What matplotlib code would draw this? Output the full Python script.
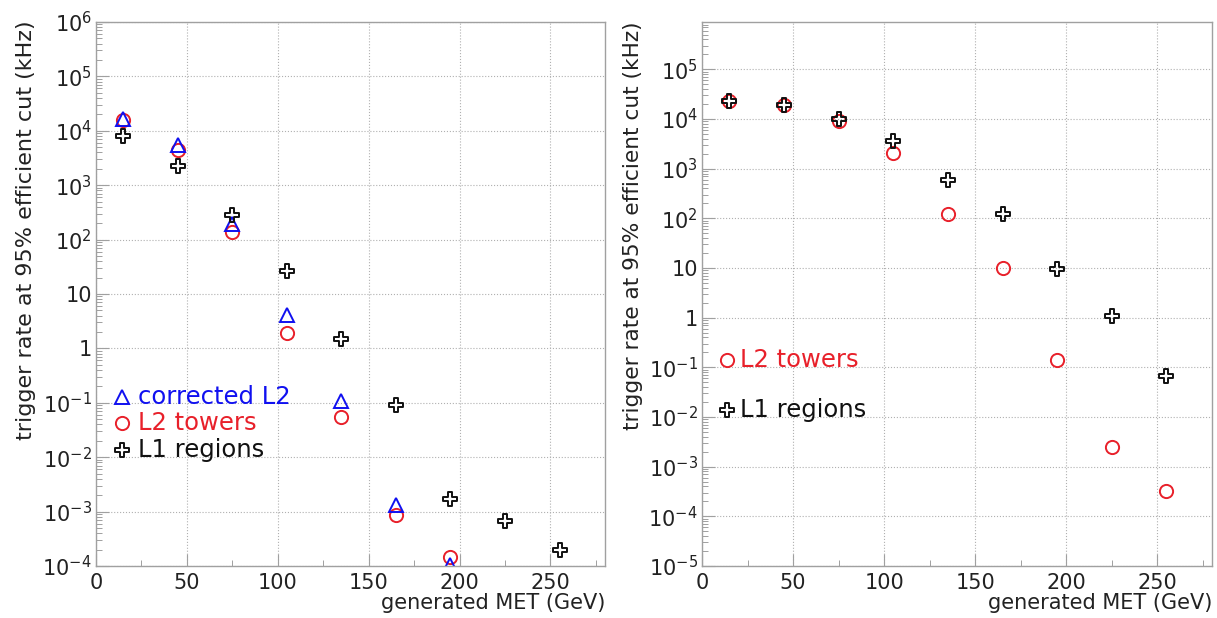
import numpy as np
import matplotlib
matplotlib.use("Agg")
import matplotlib.pyplot as plt
from matplotlib.path import Path
from matplotlib.ticker import FixedLocator, FuncFormatter, LogLocator, MultipleLocator, NullFormatter

plt.rcParams['font.family'] = ['DejaVu Sans']
plt.rcParams['mathtext.default'] = 'regular'

# ---------------- data ----------------
met = [15, 45, 75, 105, 135, 165, 195, 225, 255]

# left panel
left_corrected_l2 = [1.65e4, 5.5e3, 190, 4.1, 0.11, 1.3e-3, 1.05e-4]
left_l2_towers = [1.6e4, 4.4e3, 138, 1.9, 0.054, 8.8e-4, 1.45e-4]
left_l1_regions = [8.0e3, 2.3e3, 280, 26, 1.5, 0.092, 1.7e-3, 6.8e-4, 2.0e-4]

# right panel
right_l2_towers = [2.35e4, 1.95e4, 9.0e3, 2.1e3, 125, 10, 0.14, 2.5e-3, 3.2e-4]
right_l1_regions = [2.35e4, 1.95e4, 1.0e4, 3.6e3, 580, 125, 9.5, 1.07, 0.066]

ylabel = "trigger rate at 95% efficient cut (kHz)"
xlabel = "generated MET (GeV)"
labels = ["corrected L2", "L2 towers", "L1 regions"]

BLUE = '#1010f0'
RED = '#e8202a'
BLACK = '#111111'
GRAY = '#a0a0a0'

# open-cross marker (ROOT style 28)
w = 0.36
cross = Path([(-w, 1), (w, 1), (w, w), (1, w), (1, -w), (w, -w), (w, -1), (-w, -1),
              (-w, -w), (-1, -w), (-1, w), (-w, w), (-w, 1)],
             [Path.MOVETO] + [Path.LINETO] * 11 + [Path.CLOSEPOLY])

W, H = 1217, 618
fig = plt.figure(figsize=(W / 100, H / 100), dpi=100)


def fmt(v, pos):
    e = int(round(np.log10(v)))
    if e == 0:
        return "1"
    if e == 1:
        return "10"
    return r"$10^{%d}$" % e


def style_axes(ax, ymin, ymax, exps):
    ax.set_xlim(0, 280)
    ax.set_yscale('log')
    ax.set_ylim(ymin, ymax)
    ax.yaxis.set_major_locator(FixedLocator([10.0 ** e for e in exps]))
    ax.yaxis.set_major_formatter(FuncFormatter(fmt))
    ax.yaxis.set_minor_locator(LogLocator(base=10, subs=np.arange(2, 10), numticks=50))
    ax.yaxis.set_minor_formatter(NullFormatter())
    ax.xaxis.set_major_locator(MultipleLocator(50))
    ax.xaxis.set_minor_locator(MultipleLocator(25))
    ax.tick_params(axis='both', which='major', direction='in', length=9, width=0.8,
                   color=GRAY, labelsize=15, labelcolor='#222222', top=False, right=False)
    ax.tick_params(axis='y', which='major', pad=3)
    ax.tick_params(axis='x', which='major', pad=5)
    ax.tick_params(axis='both', which='minor', direction='in', length=4, width=0.7,
                   color=GRAY, top=False, right=False)
    ax.grid(True, which='major', linestyle=':', linewidth=0.8, color='#b0b0b0')
    for s in ax.spines.values():
        s.set_color(GRAY)
        s.set_linewidth(1.0)
    ax.set_axisbelow(True)


ms = 9.5
mew = 1.4
legfs = 17.5

# ---------------- left panel ----------------
axL = fig.add_axes([96 / W, (H - 566) / H, 509 / W, 544 / H])
style_axes(axL, 1e-4, 1e6, range(-4, 7))
axL.plot(met[:len(left_l2_towers)], left_l2_towers, linestyle='none', marker='o', ms=ms,
         mfc='none', mec=RED, mew=mew)
axL.plot(met[:len(left_corrected_l2)], left_corrected_l2, linestyle='none', marker='^', ms=ms,
         mfc='none', mec=BLUE, mew=mew)
axL.plot(met[:len(left_l1_regions)], left_l1_regions, linestyle='none', marker=cross, ms=ms,
         mfc='none', mec=BLACK, mew=mew)

# legend (left)
leg_y = [0.311, 0.263, 0.213]
leg_m = ['^', 'o', cross]
leg_c = [BLUE, RED, BLACK]
for y, m, c, lab in zip(leg_y, leg_m, leg_c, labels):
    axL.plot([0.051], [y], transform=axL.transAxes, marker=m, ms=ms, mfc='none', mec=c,
             mew=mew, linestyle='none', clip_on=False)
    axL.text(0.082, y, lab, transform=axL.transAxes, color=c, fontsize=legfs,
             ha='left', va='center')

fig.text(26 / W, 1 - 20 / H, ylabel, rotation=90, ha='center', va='top',
         fontsize=16, color='#222222')
fig.text(605 / W, 1 - 603 / H, xlabel, ha='right', va='center', fontsize=15, color='#222222')

# ---------------- right panel ----------------
axR = fig.add_axes([702 / W, (H - 566) / H, 510 / W, 544 / H])
style_axes(axR, 1e-5, 9e5, range(-5, 6))
axR.plot(met, right_l2_towers, linestyle='none', marker='o', ms=ms,
         mfc='none', mec=RED, mew=mew)
axR.plot(met, right_l1_regions, linestyle='none', marker=cross, ms=ms,
         mfc='none', mec=BLACK, mew=mew)

leg_yR = [0.379, 0.287]
for y, m, c, lab in zip(leg_yR, ['o', cross], [RED, BLACK], labels[1:]):
    axR.plot([0.049], [y], transform=axR.transAxes, marker=m, ms=ms, mfc='none', mec=c,
             mew=mew, linestyle='none', clip_on=False)
    axR.text(0.075, y, lab, transform=axR.transAxes, color=c, fontsize=legfs,
             ha='left', va='center')

fig.text(633 / W, 1 - 22 / H, ylabel, rotation=90, ha='center', va='top',
         fontsize=15.6, color='#222222')
fig.text(1212 / W, 1 - 603 / H, xlabel, ha='right', va='center', fontsize=15, color='#222222')

fig.savefig("out.png", dpi=100)
